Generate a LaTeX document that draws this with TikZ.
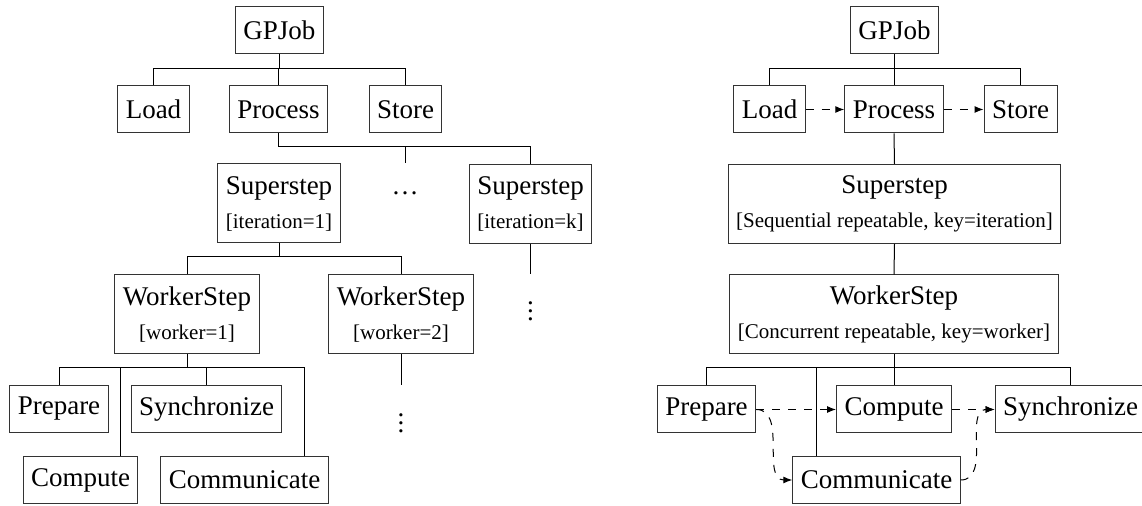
\documentclass[tikz,border=0pt]{standalone}
\usepackage{fontspec}
\setmainfont{Liberation Serif}
\usetikzlibrary{arrows.meta,calc}
\newcommand\myMainFont{\fontsize{13.5}{15}\selectfont}
\newcommand\mySubFont{\fontsize{10.5}{12}\selectfont}
\begin{document}
\begin{tikzpicture}[x=0.5pt,y=-0.5pt,
  box/.style={draw=black!80, line width=0.5pt, inner xsep=4pt, inner ysep=0pt, minimum height=23.5pt, font=\myMainFont},
  twobox/.style={box, align=center, minimum height=39.5pt},
  link/.style={line width=0.5pt},
  flow/.style={line width=0.5pt, dash pattern=on 4pt off 4pt, -{Latex[length=4.5pt,width=3.5pt]}},
  dotsnode/.style={inner sep=0pt, font=\myMainFont}]
\useasboundingbox (0,0) rectangle (1142,506);
% ---------- left tree ----------
\node[box] (lg) at (279.5,30.5) {GPJob};
\node[box] (ll) at (153.5,109.5) {Load};
\node[box] (lp) at (278.5,109.5) {Process};
\node[box] (ls) at (405.5,109.5) {Store};
\node[twobox] (ls1) at (279,203.5) {Superstep\\[2pt]{\mySubFont [iteration=1]}};
\node[dotsnode] (ldots) at (405,193) {\ldots};
\node[twobox] (lsk) at (530.5,204) {Superstep\\[2pt]{\mySubFont [iteration=k]}};
\node[twobox] (lw1) at (187,314.5) {WorkerStep\\[2pt]{\mySubFont [worker=1]}};
\node[twobox] (lw2) at (401,314.5) {WorkerStep\\[2pt]{\mySubFont [worker=2]}};
\node[dotsnode] (lvd1) at (530.5,305) {$\vdots$};
\node[dotsnode] (lvd2) at (401,417) {$\vdots$};
\node[box] (lprep) at (59,409) {Prepare};
\node[box] (lsync) at (206.5,409) {Synchronize};
\node[box] (lcomp) at (80.5,480) {Compute};
\node[box] (lcomm) at (244.5,480) {Communicate};
\coordinate (yb1) at (0,69);
\coordinate (yb2) at (0,147);
\coordinate (yb3) at (0,257);
\coordinate (yb4) at (0,368);
\coordinate (lxc) at (120,0);
\coordinate (lxm) at (304,0);
\draw[link] (lg.south) -- (lg.south |- yb1);
\draw[link] (ll.north) |- (yb1 -| ls.north) -- (ls.north);
\draw[link] (lp.north) -- (lp.north |- yb1);
\draw[link] (lp.south) |- (yb2 -| lsk.north) -- (lsk.north);
\draw[link] (ldots.north |- yb2) -- (ldots.north |- ls1.north);
\draw[link] (lsk.south) -- (lsk.south |- lw1.north);
\draw[link] (ls1.south) -- (ls1.south |- yb3);
\draw[link] (lw1.north) |- (yb3 -| lw2.north) -- (lw2.north);
\draw[link] (lw2.south) -- (lw2.south |- lprep.north);
\draw[link] (lw1.south) -- (lw1.south |- yb4);
\draw[link] (lprep.north) |- (yb4 -| lxm) -- (lxm |- lcomm.north);
\draw[link] (lsync.north) -- (lsync.north |- yb4);
\draw[link] (lxc |- yb4) -- (lxc |- lcomp.north);
% ---------- right tree ----------
\node[box] (rg) at (894.5,30.5) {GPJob};
\node[box] (rl) at (769.5,109.5) {Load};
\node[box] (rp) at (894,109.5) {Process};
\node[box] (rs) at (1020.5,109.5) {Store};
\node[twobox] (rss) at (894.5,204) {Superstep\\[2pt]{\mySubFont [Sequential repeatable, key=iteration]}};
\node[twobox] (rw) at (894,314.5) {WorkerStep\\[2pt]{\mySubFont [Concurrent repeatable, key=worker]}};
\node[box] (rprep) at (706.5,409.5) {Prepare};
\node[box] (rcomp) at (894,409.5) {Compute};
\node[box] (rsync) at (1070.5,409.5) {Synchronize};
\node[box] (rcomm) at (876.5,480) {Communicate};
\coordinate (rxm) at (816,0);
\draw[link] (rg.south) -- (rg.south |- yb1);
\draw[link] (rl.north) |- (yb1 -| rs.north) -- (rs.north);
\draw[link] (rp.north) -- (rp.north |- yb1);
\draw[link] (rp.south) -- (rss.north);
\draw[link] (rss.south) -- (rw.north);
\draw[link] (rw.south) -- (rcomp.north);
\draw[link] (rprep.north) |- (yb4 -| rsync.north) -- (rsync.north);
\draw[link] (rxm |- yb4) -- (rxm |- rcomm.north);
\draw[flow] (rl.east) -- (rp.west);
\draw[flow] (rp.east) -- (rs.west);
\draw[flow] (rprep.east) -- (rcomp.west);
\draw[flow] (rcomp.east) -- (rsync.west);
\draw[flow] (rprep.east) to[out=0,in=180] (rcomm.west);
\draw[flow] (rcomm.east) to[out=0,in=180] (rsync.west);
\end{tikzpicture}
\end{document}
